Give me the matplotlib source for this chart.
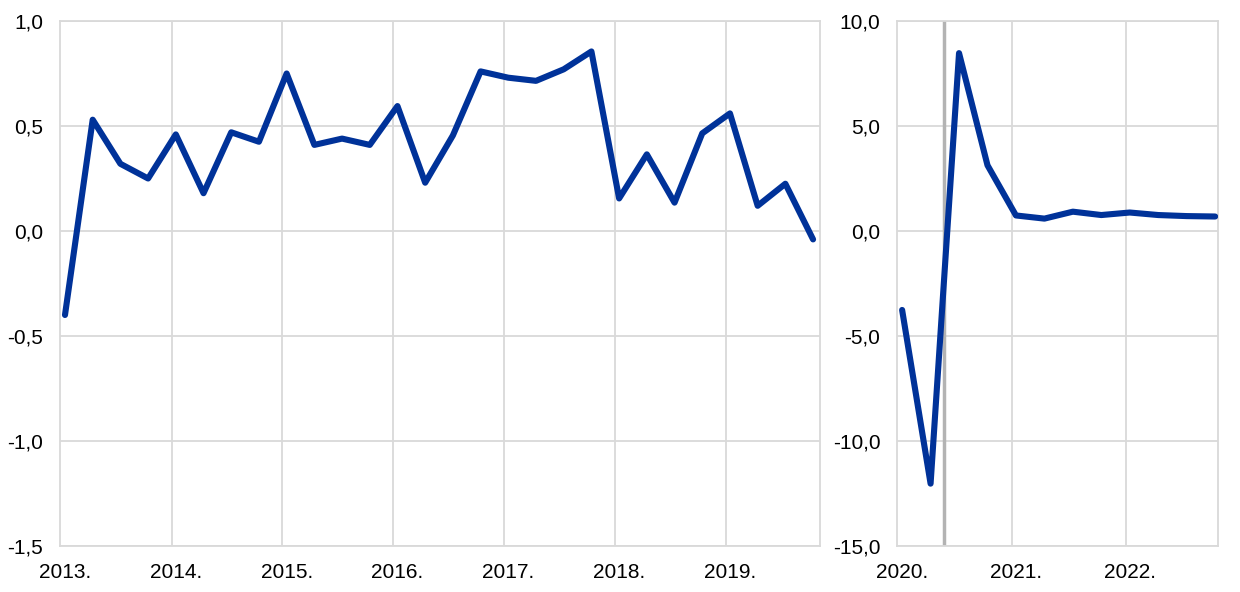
import numpy as np
import matplotlib
matplotlib.use("Agg")
import matplotlib.pyplot as plt

plt.rcParams['font.family'] = ['Liberation Sans', 'DejaVu Sans']

# quarterly growth, 2013Q1 - 2019Q4
pre_vals = [-0.40, 0.53, 0.32, 0.25,
            0.46, 0.18, 0.47, 0.425,
            0.75, 0.41, 0.44, 0.41,
            0.595, 0.23, 0.455, 0.76,
            0.73, 0.715, 0.77, 0.855,
            0.155, 0.365, 0.135, 0.465,
            0.56, 0.12, 0.225, -0.04]
pre_years = ['2013.', '2014.', '2015.', '2016.', '2017.', '2018.', '2019.']
pre_yticks = [1.0, 0.5, 0.0, -0.5, -1.0, -1.5]
pre_ylabels = ['1,0', '0,5', '0,0', '-0,5', '-1,0', '-1,5']

# 2020Q1 - 2022Q4
post_vals = [-3.76, -12.03, 8.47, 3.13,
             0.74, 0.59, 0.92, 0.76,
             0.88, 0.76, 0.71, 0.69]
post_years = ['2020.', '2021.', '2022.']
post_yticks = [10.0, 5.0, 0.0, -5.0, -10.0, -15.0]
post_ylabels = ['10,0', '5,0', '0,0', '-5,0', '-10,0', '-15,0']

BLUE = '#003299'
GRID = '#d9d9d9'

fig = plt.figure(figsize=(12.4, 5.92), dpi=100)
ax1 = fig.add_axes([60/1240, 46/592, 760/1240, 525/592])
ax2 = fig.add_axes([897/1240, 46/592, 321/1240, 525/592])


def style(ax, vals, years, yticks, ylabels, ylim, right_pad):
    n = len(vals)
    x = np.arange(n)
    ax.plot(x, vals, color=BLUE, lw=4.4, solid_capstyle='round',
            solid_joinstyle='round', zorder=3)
    ax.set_xlim(-0.18, n - 1 + right_pad)
    ax.set_ylim(*ylim)
    ax.set_yticks(yticks)
    ax.set_yticklabels(ylabels)
    ax.set_xticks(np.arange(0, n, 4))
    ax.set_xticklabels(years)
    # year gridlines sit just left of each first quarter
    for k in range(4, n, 4):
        ax.axvline(k - 0.15, color=GRID, lw=1.3, zorder=1)
    for y in yticks:
        ax.axhline(y, color=GRID, lw=1.3, zorder=1)
    for s in ax.spines.values():
        s.set_color(GRID)
        s.set_linewidth(1.3)
    ax.tick_params(axis='both', length=0, labelsize=15, colors='black')
    ax.tick_params(axis='y', pad=12)
    ax.tick_params(axis='x', pad=12)


style(ax1, pre_vals, pre_years, pre_yticks, pre_ylabels, (-1.5, 1.0), 0.25)
style(ax2, post_vals, post_years, post_yticks, post_ylabels, (-15.0, 10.0), 0.1)

# break marker between 2020Q2 and 2020Q3
ax2.axvline(1.46, color='#b3b3b3', lw=2.5, zorder=2)

fig.savefig('out.png', dpi=100)
